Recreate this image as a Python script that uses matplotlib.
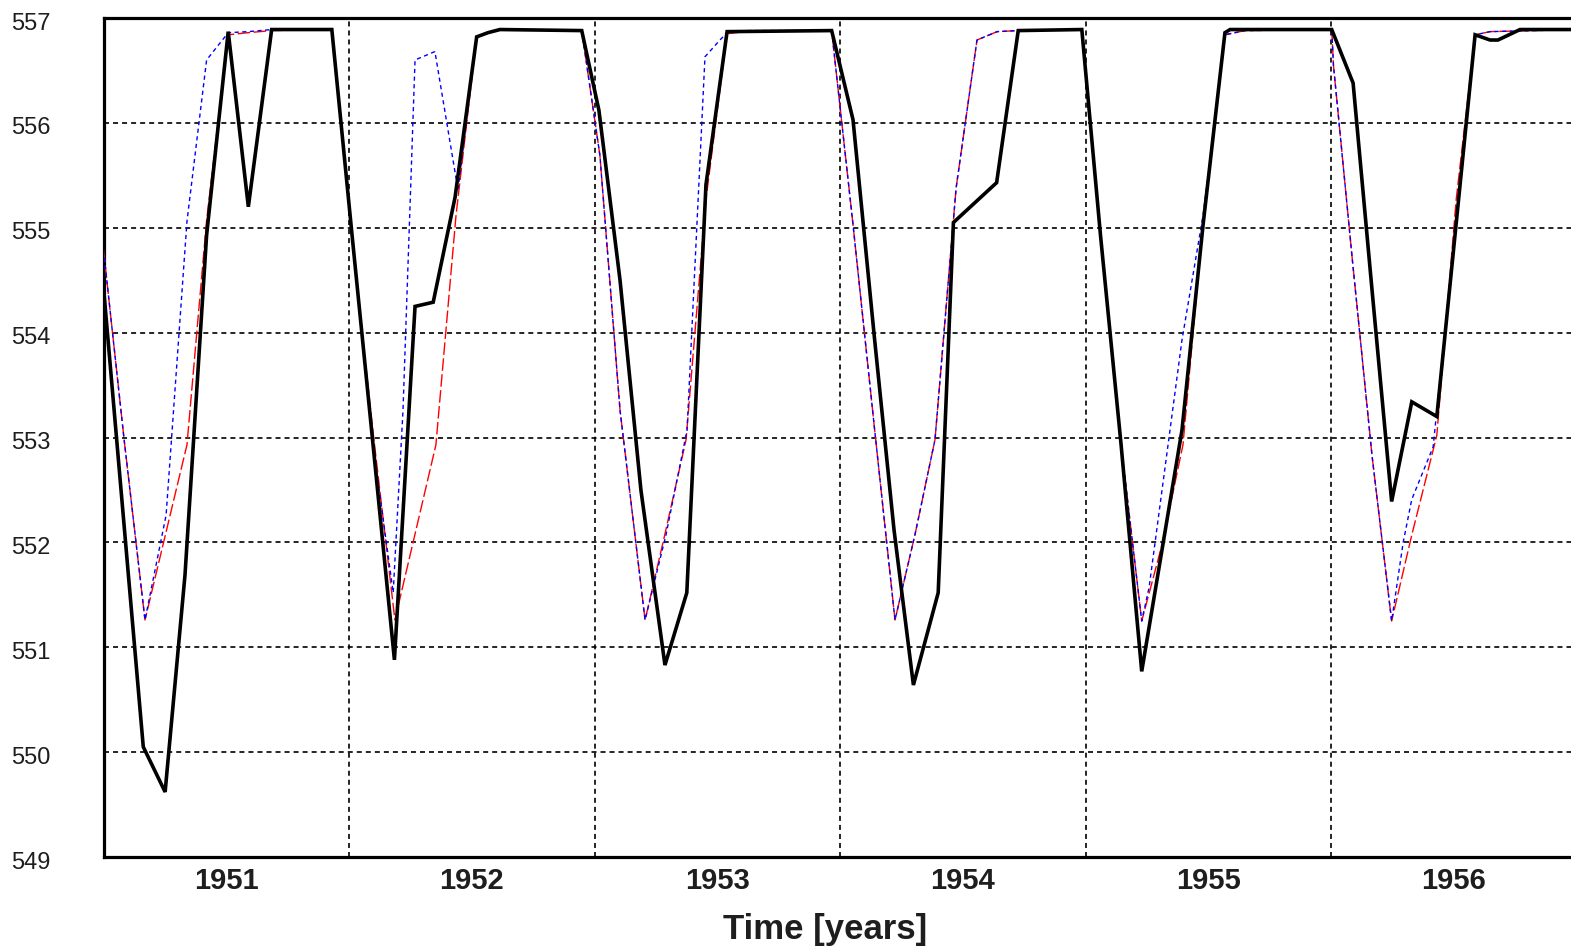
import matplotlib
matplotlib.use("Agg")
import matplotlib.pyplot as plt
from matplotlib.transforms import ScaledTranslation

plt.rcParams['lines.scale_dashes'] = False

# ---- data (time in decimal years, water level in m) ----
black_t = [1950.500, 1950.662, 1950.751, 1950.832, 1950.920, 1951.008, 1951.090, 1951.185,
           1951.430, 1951.512, 1951.598, 1951.685, 1951.769, 1951.843, 1951.932, 1952.020,
           1952.066, 1952.115, 1952.448, 1952.518, 1952.604, 1952.689, 1952.787, 1952.876,
           1952.954, 1953.040, 1953.466, 1953.553, 1953.639, 1953.720, 1953.799, 1953.900,
           1953.962, 1954.050, 1954.138, 1954.226, 1954.485, 1954.561, 1954.645, 1954.729,
           1954.893, 1954.979, 1955.068, 1955.089, 1955.503, 1955.590, 1955.667, 1955.747,
           1955.829, 1955.931, 1956.087, 1956.148, 1956.180, 1956.270, 1956.500]
black_v = [554.43, 550.05, 549.62, 551.69, 554.93, 556.87, 555.20, 556.89,
           556.89, 554.94, 552.93, 550.88, 554.25, 554.29, 555.29, 556.82,
           556.86, 556.89, 556.88, 556.12, 554.50, 552.50, 550.83, 551.52,
           555.41, 556.87, 556.88, 556.03, 553.98, 552.12, 550.64, 551.52,
           555.05, 555.24, 555.43, 556.88, 556.89, 554.93, 552.93, 550.77,
           553.07, 555.03, 556.86, 556.89, 556.89, 556.38, 554.41, 552.39,
           553.34, 553.20, 556.84, 556.79, 556.79, 556.89, 556.89]

red_t = [1950.500, 1950.584, 1950.669, 1950.755, 1950.840, 1950.920, 1951.008, 1951.089,
         1951.185, 1951.430, 1951.512, 1951.598, 1951.687, 1951.769, 1951.854, 1951.936,
         1952.020, 1952.066, 1952.115, 1952.448, 1952.522, 1952.604, 1952.706, 1952.787,
         1952.873, 1952.954, 1953.040, 1953.113, 1953.466, 1953.553, 1953.639, 1953.724,
         1953.806, 1953.887, 1953.973, 1954.058, 1954.140, 1954.226, 1954.485, 1954.561,
         1954.645, 1954.729, 1954.812, 1954.897, 1954.979, 1955.068, 1955.150, 1955.503,
         1955.510, 1955.588, 1955.667, 1955.747, 1955.829, 1955.931, 1956.010, 1956.087,
         1956.148, 1956.500]
red_v = [554.79, 552.98, 551.26, 552.10, 552.93, 555.07, 556.84, 556.86,
         556.88, 556.89, 554.90, 553.05, 551.26, 552.08, 552.93, 555.12,
         556.82, 556.86, 556.89, 556.88, 555.69, 553.26, 551.26, 552.08,
         552.98, 555.27, 556.85, 556.87, 556.88, 555.03, 553.12, 551.26,
         552.08, 552.98, 555.38, 556.79, 556.87, 556.88, 556.89, 554.93,
         552.93, 551.25, 551.98, 552.93, 555.06, 556.84, 556.88, 556.89,
         556.55, 554.67, 552.83, 551.25, 552.07, 553.02, 555.27, 556.84,
         556.87, 556.89]

blue_t = [1950.500, 1950.584, 1950.669, 1950.755, 1950.840, 1950.920, 1951.008, 1951.089,
          1951.185, 1951.430, 1951.512, 1951.598, 1951.680, 1951.720, 1951.769, 1951.850,
          1951.944, 1952.020, 1952.115, 1952.448, 1952.522, 1952.604, 1952.706, 1952.791,
          1952.877, 1952.950, 1953.011, 1953.040, 1953.113, 1953.466, 1953.553, 1953.639,
          1953.724, 1953.806, 1953.887, 1953.973, 1954.058, 1954.140, 1954.226, 1954.485,
          1954.561, 1954.645, 1954.729, 1954.759, 1954.893, 1954.979, 1955.068, 1955.150,
          1955.503, 1955.510, 1955.588, 1955.667, 1955.747, 1955.794, 1955.829, 1955.916,
          1956.087, 1956.148, 1956.500]
blue_v = [554.79, 552.98, 551.26, 552.26, 555.06, 556.60, 556.86, 556.87,
          556.89, 556.89, 554.93, 552.93, 551.52, 553.26, 556.60, 556.68,
          555.36, 556.82, 556.89, 556.88, 555.69, 553.26, 551.26, 552.07,
          553.07, 556.63, 556.79, 556.86, 556.88, 556.88, 555.03, 553.12,
          551.26, 552.08, 552.98, 555.38, 556.79, 556.87, 556.88, 556.89,
          554.93, 552.93, 551.25, 551.57, 553.93, 555.12, 556.84, 556.88,
          556.89, 556.55, 554.67, 552.83, 551.25, 552.00, 552.41, 552.91,
          556.84, 556.87, 556.89]

year_ticks = [1951, 1952, 1953, 1954, 1955, 1956]
year_grid = [1951.5, 1952.5, 1953.5, 1954.5, 1955.5]
level_ticks = [549, 550, 551, 552, 553, 554, 555, 556, 557]
x_label = "Time [years]"

# ---- figure ----
W, H = 1571, 946
fig = plt.figure(figsize=(W / 100, H / 100), dpi=100)
ax = fig.add_axes([103.5 / W, (H - 857) / H, 1473 / W, (857 - 18) / H])
ax.set_xlim(1950.5, 1956.5)
ax.set_ylim(549, 557)

ax.plot(red_t, red_v, color='#ff0000', lw=1.0, dashes=(9, 2.5), zorder=3)
ax.plot(blue_t, blue_v, color='#0000ff', lw=1.0, dashes=(3, 2.5), zorder=4)
ax.plot(black_t, black_v, color='black', lw=2.6, solid_joinstyle='miter', zorder=5)

ax.set_xticks(year_ticks)
ax.set_xticks(year_grid, minor=True)
ax.set_yticks(level_ticks)
ax.set_yticklabels([str(v) for v in level_ticks])
ax.set_xticklabels([str(v) for v in year_ticks])

grid_kw = dict(color='black', linewidth=1.2, linestyle=(0, (3.6, 2.9)))
ax.xaxis.grid(True, which='minor', **grid_kw)
ax.yaxis.grid(True, which='major', **grid_kw)
ax.xaxis.grid(False, which='major')
ax.set_axisbelow(True)

ax.tick_params(axis='both', which='both', length=0)
ax.tick_params(axis='y', pad=38)
ax.tick_params(axis='x', pad=7)
shift = ScaledTranslation(0, -3 / 100, fig.dpi_scale_trans)
for lab in ax.get_yticklabels():
    lab.set_fontfamily(['Liberation Sans', 'DejaVu Sans'])
    lab.set_fontsize(17)
    lab.set_color('#1e1e1e')
    lab.set_transform(lab.get_transform() + shift)
for lab in ax.get_xticklabels():
    lab.set_fontfamily(['Liberation Sans', 'DejaVu Sans'])
    lab.set_fontsize(21)
    lab.set_fontweight('bold')
    lab.set_color('#1e1e1e')

for s in ax.spines.values():
    s.set_linewidth(2.3)
    s.set_color('black')

ax.set_xlabel(x_label, fontsize=25, fontweight='bold', color='#1e1e1e',
              family=['Liberation Sans', 'DejaVu Sans'])
ax.xaxis.set_label_coords((825 - 103.5) / 1473, (857 - 929) / 839)
ax.xaxis.label.set_va('center')

fig.savefig('out.png', dpi=100, facecolor='white')
